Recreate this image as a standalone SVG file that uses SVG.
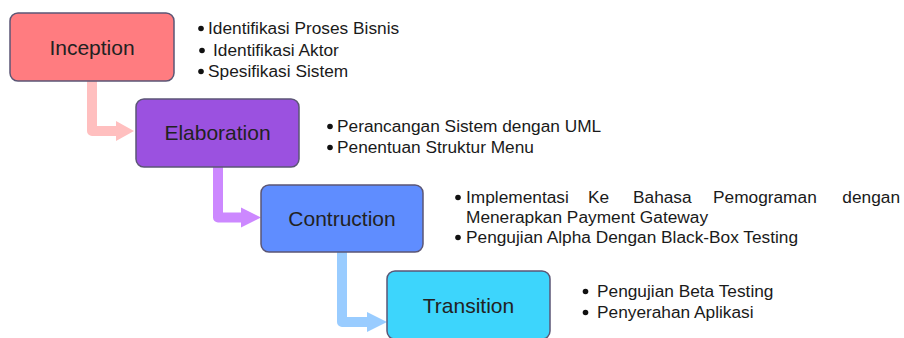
<svg xmlns="http://www.w3.org/2000/svg" width="904" height="338" viewBox="0 0 904 338">
<style>
.box{stroke:#5b5675;stroke-width:1.5}
.lbl{font-family:"Liberation Sans",Arial,sans-serif;font-size:21px;fill:#222;text-anchor:middle}
.txt{font-family:"Liberation Sans",Arial,sans-serif;font-size:17.3px;fill:#1a1a1a}
.bul{fill:#111}
.conn{fill:none;stroke-width:10;stroke-linejoin:round}
</style>
<rect width="904" height="338" fill="#ffffff"/>
<g id="connectors">
<path class="conn" d="M92 81 V131 H117" stroke="#ffbfbf"/>
<polygon points="116,121 134,131 116,141" fill="#ffbfbf"/>
<path class="conn" d="M218 167 V217.5 H242" stroke="#cc88ff"/>
<polygon points="241,207.5 261,217.5 241,227.5" fill="#cc88ff"/>
<path class="conn" d="M342 252 V322 H368" stroke="#99ccff"/>
<polygon points="367,312 387,322 367,332" fill="#99ccff"/>
</g>
<g id="inception">
<rect class="box" x="10" y="13" width="164" height="68" rx="8" fill="#ff7c80"/>
<text class="lbl" x="92" y="54.5">Inception</text>
</g>
<g id="elaboration">
<rect class="box" x="136" y="99" width="163" height="68" rx="8" fill="#9b51e0"/>
<text class="lbl" x="217.5" y="140">Elaboration</text>
</g>
<g id="contruction">
<rect class="box" x="261" y="185" width="162" height="67" rx="8" fill="#5f8dff"/>
<text class="lbl" x="342" y="226">Contruction</text>
</g>
<g id="transition">
<rect class="box" x="387" y="271" width="163" height="68" rx="8" fill="#3dd5fc"/>
<text class="lbl" x="468.5" y="313">Transition</text>
</g>
<g id="notes-inception">
<circle class="bul" cx="201" cy="28.5" r="2.8"/>
<circle class="bul" cx="202" cy="50.5" r="2.8"/>
<circle class="bul" cx="201" cy="71.5" r="2.8"/>
<text class="txt" x="208" y="34">Identifikasi Proses Bisnis</text>
<text class="txt" x="213" y="56">Identifikasi Aktor</text>
<text class="txt" x="208" y="77">Spesifikasi Sistem</text>
</g>
<g id="notes-elaboration">
<circle class="bul" cx="330" cy="126.5" r="2.8"/>
<circle class="bul" cx="330" cy="147.5" r="2.8"/>
<text class="txt" x="337" y="132">Perancangan Sistem dengan UML</text>
<text class="txt" x="337" y="153">Penentuan Struktur Menu</text>
</g>
<g id="notes-contruction">
<circle class="bul" cx="458" cy="197.5" r="2.8"/>
<circle class="bul" cx="458" cy="237.5" r="2.8"/>
<text class="txt" y="203"><tspan x="466">Implementasi</tspan><tspan x="588">Ke</tspan><tspan x="633">Bahasa</tspan><tspan x="713">Pemograman</tspan></text>
<text class="txt" x="900" y="203" text-anchor="end">dengan</text>
<text class="txt" x="466" y="223">Menerapkan Payment Gateway</text>
<text class="txt" x="466" y="243">Pengujian Alpha Dengan Black-Box Testing</text>
</g>
<g id="notes-transition">
<circle class="bul" cx="585.5" cy="291.5" r="2.8"/>
<circle class="bul" cx="585.5" cy="312.5" r="2.8"/>
<text class="txt" x="597" y="297">Pengujian Beta Testing</text>
<text class="txt" x="597" y="318">Penyerahan Aplikasi</text>
</g>
</svg>
